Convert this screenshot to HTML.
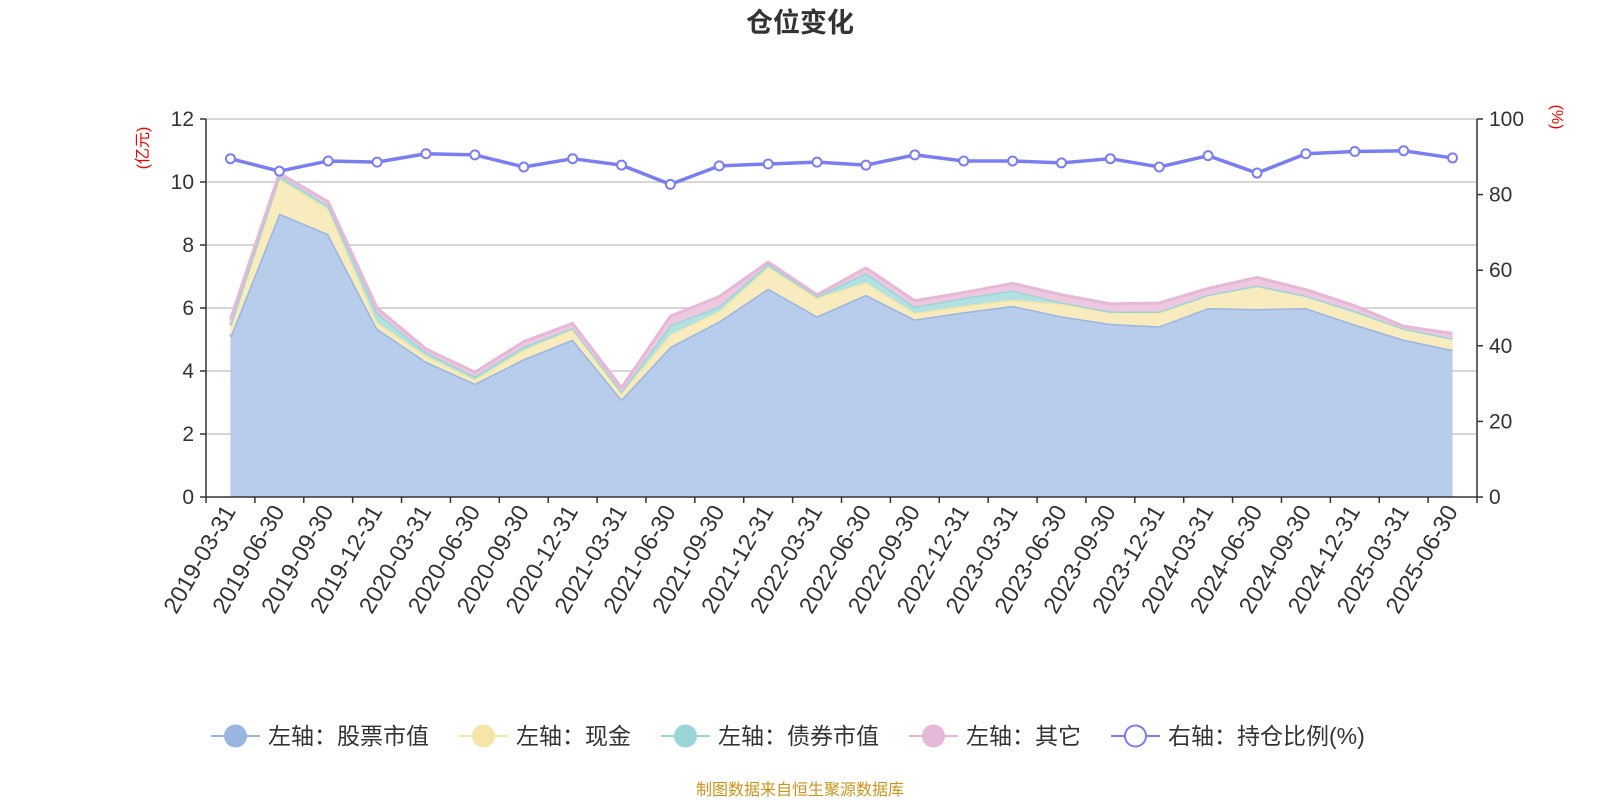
<!DOCTYPE html>
<html><head><meta charset="utf-8">
<style>
body{margin:0;background:#fff;width:1600px;height:800px;overflow:hidden;font-family:"Liberation Sans","Noto Sans CJK SC",sans-serif;}
svg text{font-family:"Liberation Sans","Noto Sans CJK SC",sans-serif;}
</style></head>
<body>
<svg id="chart" width="1600" height="800" xmlns="http://www.w3.org/2000/svg">
<text x="800" y="32" text-anchor="middle" font-size="27" font-weight="bold" fill="#333">仓位变化</text>
<text transform="translate(148,148) rotate(-90)" text-anchor="middle" font-size="16" fill="#e00">(亿元)</text>
<text transform="translate(1552,117) rotate(90)" text-anchor="middle" font-size="16" fill="#e00">(%)</text>
<g id="grid"></g><g id="areas"></g><g id="axes"></g><g id="ratio"></g><g id="legend"></g>
<text x="800" y="795" text-anchor="middle" font-size="16" fill="#c8961e">制图数据来自恒生聚源数据库</text>
</svg>
<script>
const categories=["2019-03-31","2019-06-30","2019-09-30","2019-12-31","2020-03-31","2020-06-30","2020-09-30","2020-12-31","2021-03-31","2021-06-30","2021-09-30","2021-12-31","2022-03-31","2022-06-30","2022-09-30","2022-12-31","2023-03-31","2023-06-30","2023-09-30","2023-12-31","2024-03-31","2024-06-30","2024-09-30","2024-12-31","2025-03-31","2025-06-30"];
const stockValues=[5.09,9.0,8.35,5.35,4.3,3.6,4.38,5.0,3.1,4.77,5.58,6.62,5.74,6.42,5.64,5.87,6.07,5.74,5.5,5.42,6.0,5.97,6.0,5.48,5.0,4.67];
const cashValues=[0.33,1.1,0.8,0.2,0.18,0.13,0.29,0.32,0.2,0.39,0.32,0.68,0.58,0.39,0.2,0.2,0.19,0.39,0.37,0.42,0.42,0.74,0.39,0.42,0.35,0.36];
const bondValues=[0.05,0.1,0.1,0.3,0.12,0.1,0.1,0.05,0.05,0.3,0.15,0.1,0.05,0.3,0.2,0.25,0.3,0.05,0.02,0.05,0,0,0,0,0,0];
const otherValues=[0.17,0.08,0.12,0.15,0.1,0.13,0.16,0.14,0.12,0.28,0.31,0.06,0.05,0.16,0.19,0.17,0.22,0.24,0.24,0.27,0.2,0.26,0.19,0.17,0.07,0.16];
const ratioValues=[89.5,86.2,88.9,88.6,90.8,90.5,87.3,89.5,87.8,82.7,87.6,88.1,88.6,87.8,90.5,88.9,88.9,88.4,89.5,87.3,90.3,85.7,90.8,91.4,91.6,89.7];
const leftTicks=[0,2,4,6,8,10,12];
const rightTicks=[0,20,40,60,80,100];

const NS="http://www.w3.org/2000/svg";
const X0=206,X1=1477,Y0=497,Y1=119;
const band=(X1-X0)/categories.length;
const xPos=i=>X0+band*(i+0.5);
const yL=v=>Y0-(v/12)*(Y0-Y1);
const yR=v=>Y0-(v/100)*(Y0-Y1);
function mk(tag,attrs,parent){const e=document.createElementNS(NS,tag);for(const k in attrs)e.setAttribute(k,attrs[k]);parent.appendChild(e);return e;}
const grid=document.getElementById('grid'),axes=document.getElementById('axes'),areas=document.getElementById('areas'),ratio=document.getElementById('ratio'),legend=document.getElementById('legend');

leftTicks.forEach(t=>{
  if(t>0){const l=mk('line',{x1:X0,x2:X1,y1:yL(t),y2:yL(t),stroke:'#c8c8c8','stroke-width':1.5},grid);
  
  }
  mk('line',{x1:X0-6,x2:X0,y1:yL(t),y2:yL(t),stroke:'#333','stroke-width':1.5},axes);
  const tx=mk('text',{x:X0-12,y:yL(t)+7,'text-anchor':'end','font-size':21,fill:'#333'},axes);
  tx.textContent=t;
  
  
});
rightTicks.forEach(t=>{
  mk('line',{x1:X1,x2:X1+6,y1:yR(t),y2:yR(t),stroke:'#333','stroke-width':1.5},axes);
  const tx=mk('text',{x:X1+12,y:yR(t)+7,'text-anchor':'start','font-size':21,fill:'#333'},axes);
  tx.textContent=t;
  
  
});
mk('line',{x1:X0,x2:X0,y1:Y1,y2:Y0,stroke:'#333','stroke-width':1.5},axes);
mk('line',{x1:X1,x2:X1,y1:Y1,y2:Y0,stroke:'#333','stroke-width':1.5},axes);
mk('line',{x1:X0,x2:X1,y1:Y0,y2:Y0,stroke:'#333','stroke-width':1.5},axes);
for(let i=0;i<=categories.length;i++){const x=X0+band*i;mk('line',{x1:x,x2:x,y1:Y0,y2:Y0+6,stroke:'#333','stroke-width':1.5},axes);}
categories.forEach((c,i)=>{
  const x=xPos(i)+6,y=Y0+14;
  const tx=mk('text',{transform:`translate(${x},${y}) rotate(-60)`,'text-anchor':'end','font-size':23.5,fill:'#333'},axes);
  tx.textContent=c;
  
  
});

const series=[
 {name:'stock',vals:stockValues,fill:'#b8cceb',stroke:'#9ab6e0'},
 {name:'cash',vals:cashValues,fill:'#f8ecbe',stroke:'#f5e6a8'},
 {name:'bond',vals:bondValues,fill:'#b3e0e0',stroke:'#9ad6d6'},
 {name:'other',vals:otherValues,fill:'#eec8e0',stroke:'#e6b8d8'}
];
let base=categories.map(()=>0);
series.forEach(s=>{
  const top=base.map((b,i)=>b+s.vals[i]);
  let d='M'+top.map((v,i)=>xPos(i)+','+yL(v)).join(' L');
  for(let i=categories.length-1;i>=0;i--)d+=' L'+xPos(i)+','+yL(base[i]);
  d+='Z';
  const a=mk('path',{d:d,fill:s.fill,stroke:'none'},areas);
  
  
  const l=mk('polyline',{points:top.map((v,i)=>xPos(i)+','+yL(v)).join(' '),fill:'none',stroke:s.stroke,'stroke-width':3,'stroke-linejoin':'round'},areas);
  
  
  base=top;
});
const rl=mk('polyline',{points:ratioValues.map((v,i)=>xPos(i)+','+yR(v)).join(' '),fill:'none',stroke:'#7b7ef0','stroke-width':3.5,'stroke-linejoin':'round'},ratio);


ratioValues.forEach((v,i)=>{
  const c=mk('circle',{cx:xPos(i),cy:yR(v),r:4.5,fill:'#fff',stroke:'#7b7ef0','stroke-width':2},ratio);
  
  
});
const legItems=[
 {label:'左轴：股票市值',color:'#9ab6e0',fill:'#9ab6e0',x:211},
 {label:'左轴：现金',color:'#f5e6a8',fill:'#f5e6a8',x:459},
 {label:'左轴：债券市值',color:'#9ad6d6',fill:'#9ad6d6',x:661},
 {label:'左轴：其它',color:'#e6b8d8',fill:'#e6b8d8',x:909},
 {label:'右轴：持仓比例(%)',color:'#7b7ef0',fill:'#fff',x:1111}
];
legItems.forEach(it=>{
  const g=mk('g',{},legend);
  
  
  mk('line',{x1:it.x,x2:it.x+49,y1:736,y2:736,stroke:it.color,'stroke-width':2},g);
  mk('circle',{cx:it.x+24.5,cy:736,r:10.5,fill:it.fill,stroke:it.color,'stroke-width':2},g);
  const t=mk('text',{x:it.x+57,y:744,'font-size':23,fill:'#333'},g);
  t.textContent=it.label;
});
</script>
</body></html>
